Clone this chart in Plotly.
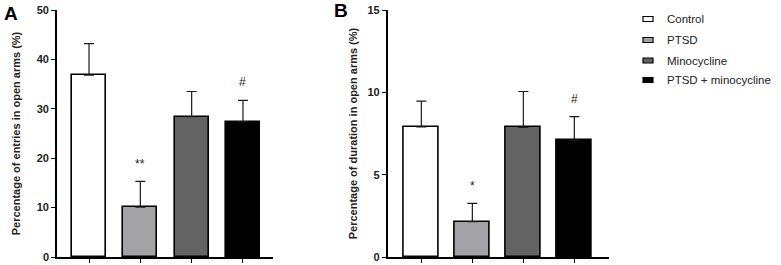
import plotly.graph_objects as go

groups = ["Control", "PTSD", "Minocycline", "PTSD + minocycline"]
colors = ["#ffffff", "#a3a3a6", "#636363", "#000000"]

entries_mean = [36.8, 10.1, 28.4, 27.4]
entries_upper = [43.2, 15.3, 33.5, 31.7]
entries_marks = ["", "**", "", "#"]
entries_mark_y = [None, 18.9, None, 35.4]

duration_mean = [7.9, 2.15, 7.87, 7.08]
duration_upper = [9.47, 3.26, 10.05, 8.52]
duration_marks = ["", "*", "", "#"]
duration_mark_y = [None, 4.3, None, 9.6]

FONT = "Arial, Liberation Sans, sans-serif"
W, H = 781, 265
L, R, T, B = 57, 172, 10, 8
pw = W - L - R
ph = H - T - B

def px(x):
    return (x - L) / pw

def py(y):
    return (H - B - y) / ph

fig = go.Figure()
xs = list(range(len(groups)))

for i, g in enumerate(groups):
    fig.add_trace(go.Bar(
        x=[xs[i]], y=[entries_mean[i]], width=0.66,
        marker=dict(color=colors[i], line=dict(color="#000000", width=1.6)),
        error_y=dict(type="data", symmetric=False,
                     array=[entries_upper[i] - entries_mean[i]], arrayminus=[0],
                     color="#1a1a1a", thickness=1.2, width=5),
        name=g, showlegend=False, xaxis="x", yaxis="y"))
    fig.add_trace(go.Bar(
        x=[xs[i]], y=[duration_mean[i]], width=0.68,
        marker=dict(color=colors[i], line=dict(color="#000000", width=1.6)),
        error_y=dict(type="data", symmetric=False,
                     array=[duration_upper[i] - duration_mean[i]], arrayminus=[0],
                     color="#1a1a1a", thickness=1.2, width=5),
        name=g, showlegend=False, xaxis="x2", yaxis="y2"))

annotations = []
for i in range(4):
    if entries_marks[i]:
        annotations.append(dict(x=xs[i], y=entries_mark_y[i], xref="x", yref="y",
                                text=entries_marks[i], showarrow=False,
                                font=dict(family=FONT, size=12, color="#222")))
    if duration_marks[i]:
        annotations.append(dict(x=xs[i], y=duration_mark_y[i], xref="x2", yref="y2",
                                text=duration_marks[i], showarrow=False,
                                font=dict(family=FONT, size=12, color="#222")))

annotations.append(dict(x=px(2), y=py(13.5), xref="paper", yref="paper", xanchor="left", yanchor="middle",
                        text="<b>A</b>", showarrow=False, font=dict(family=FONT, size=19, color="#000")))
annotations.append(dict(x=px(332), y=py(10.5), xref="paper", yref="paper", xanchor="left", yanchor="middle",
                        text="<b>B</b>", showarrow=False, font=dict(family=FONT, size=19, color="#000")))

# legend
shapes = []
leg_y = [19, 40, 60.5, 80]
for i, g in enumerate(groups):
    yc = leg_y[i]
    shapes.append(dict(type="rect", xref="paper", yref="paper", x0=px(643), x1=px(653),
                       y0=py(yc + 2.5), y1=py(yc - 2.5), fillcolor=colors[i],
                       line=dict(color="#000", width=1.2)))
    annotations.append(dict(x=px(665), y=py(yc), xref="paper", yref="paper",
                            xanchor="left", yanchor="middle", text=g, showarrow=False,
                            font=dict(family=FONT, size=11.5, color="#222")))

axis_common = dict(showline=True, linecolor="#000", linewidth=1.6, ticks="outside",
                   ticklen=4, tickwidth=1.3, tickcolor="#000", showgrid=False, zeroline=False,
                   automargin=False)

fig.update_layout(
    width=W, height=H, margin=dict(l=L, r=R, t=T, b=B),
    paper_bgcolor="white", plot_bgcolor="white", showlegend=False,
    font=dict(family=FONT, color="#222"),
    xaxis=dict(domain=[0, px(273)], range=[-0.624, 3.585], tickvals=xs, ticktext=["", "", "", ""],
               anchor="y", **axis_common),
    yaxis=dict(domain=[0, 1], range=[0, 50], tickvals=[0, 10, 20, 30, 40, 50], anchor="x",
               tickfont=dict(family=FONT, size=11, color="#222", weight="bold"),
               title=dict(text="<b>Percentage of entries in open arms (%)</b>", standoff=14,
                          font=dict(family=FONT, size=11, color="#222")),
               **axis_common),
    xaxis2=dict(domain=[px(387.7), 1], range=[-0.66, 3.68], tickvals=xs, ticktext=["", "", "", ""],
                anchor="y2", **axis_common),
    yaxis2=dict(domain=[0, 1], range=[0, 15], tickvals=[0, 5, 10, 15], anchor="x2",
                tickfont=dict(family=FONT, size=11, color="#222", weight="bold"),
                title=dict(text="<b>Percentage of duration in open arms (%)</b>", standoff=8,
                           font=dict(family=FONT, size=11, color="#222")),
                **axis_common),
    annotations=annotations, shapes=shapes, bargap=0,
)

fig.write_html("out.html", config={"displayModeBar": False},
               post_script="document.body.style.margin='0px';document.body.style.padding='0px';")
